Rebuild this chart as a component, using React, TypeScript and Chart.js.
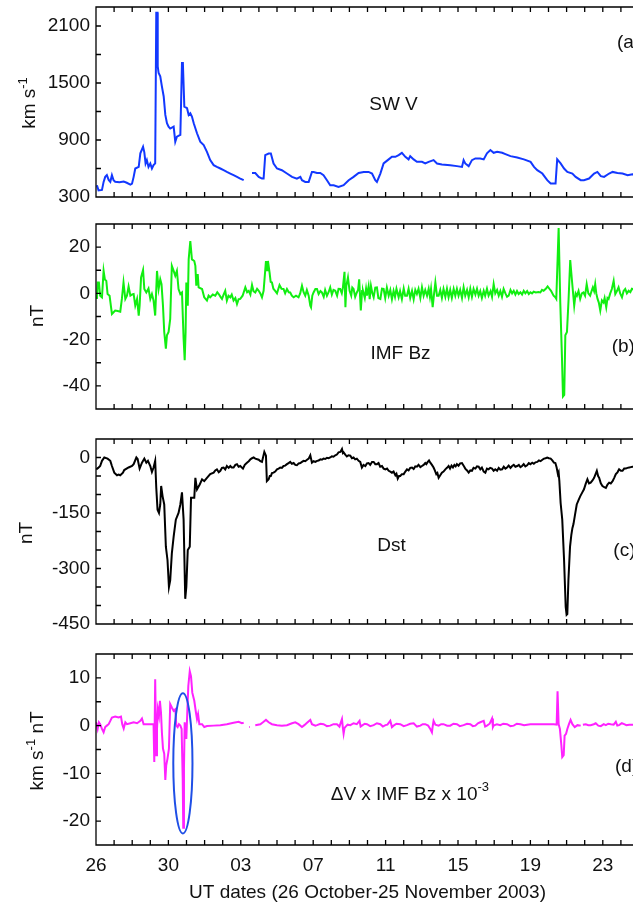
import React, { useEffect, useRef } from 'react';
import { Chart, registerables } from 'chart.js';

Chart.register(...registerables);

const FONT = '"Liberation Sans", Arial, Helvetica, sans-serif';
const TEXT = '#111111';

// ---- x axis (days after 26 Oct 2003 00 UT) ----
const dayTicks = [0, 1, 2, 3, 4, 5, 6, 7, 8, 9, 10, 11, 12, 13, 14, 15, 16, 17, 18, 19, 20, 21, 22, 23, 24, 25, 26, 27, 28, 29, 30];
const dateTickDays = [0, 4, 8, 12, 16, 20, 24, 28];
const dateTickLabels = ['26', '30', '03', '07', '11', '15', '19', '23'];

// ---- (a) solar wind speed, km/s ----
const vDays = [0.05, 0.14, 0.33, 0.42, 0.51, 0.6, 0.7, 0.79, 0.88, 0.97, 1.06, 1.3, 1.53, 1.7, 1.9, 1.99, 2.08, 2.17, 2.36, 2.45, 2.6, 2.67, 2.74, 2.81, 2.9, 3.0, 3.09, 3.18, 3.27, 3.33, 3.4, 3.41, 3.46, 3.55, 3.64, 3.74, 3.83, 3.92, 4.01, 4.1, 4.29, 4.38, 4.47, 4.66, 4.75, 4.8, 4.88, 5.03, 5.12, 5.21, 5.3, 5.4, 5.58, 5.76, 5.95, 6.13, 6.31, 6.5, 6.68, 6.87, 7.05, 7.23, 7.42, 7.6, 7.79, 7.97, 8.16, 8.4, 8.62, 8.8, 8.99, 9.17, 9.26, 9.35, 9.54, 9.66, 9.81, 10.0, 10.27, 10.55, 10.83, 11.1, 11.29, 11.38, 11.56, 11.75, 11.93, 12.02, 12.21, 12.39, 12.57, 12.76, 12.94, 13.13, 13.4, 13.68, 13.96, 14.23, 14.51, 14.79, 15.06, 15.25, 15.43, 15.52, 15.71, 15.89, 16.17, 16.35, 16.54, 16.72, 16.9, 17.09, 17.27, 17.36, 17.55, 17.73, 18.01, 18.19, 18.38, 18.65, 18.84, 19.11, 19.57, 19.94, 20.22, 20.31, 20.4, 20.59, 20.77, 20.96, 21.23, 21.42, 21.6, 21.79, 21.97, 22.16, 22.44, 22.62, 22.9, 23.27, 23.64, 24.01, 24.2, 24.38, 24.66, 24.93, 25.12, 25.39, 25.48, 25.67, 25.86, 26.04, 26.32, 26.5, 26.78, 26.96, 27.24, 27.52, 27.7, 27.89, 28.07, 28.35, 28.54, 28.81, 29.09, 29.37, 29.64, 30];
const vValues = [424, 370, 375, 459, 512, 530, 480, 460, 530, 477, 460, 455, 462, 450, 431, 440, 512, 600, 617, 760, 829, 770, 653, 688, 617, 653, 600, 635, 653, 2240, 2240, 1675, 1605, 1570, 1464, 1358, 1164, 1077, 1040, 1020, 1040, 882, 935, 953, 1711, 1711, 1252, 1235, 1164, 1182, 1147, 1077, 971, 882, 847, 776, 688, 635, 617, 600, 582, 564, 547, 530, 512, 494, 477, null, 553, 553, 512, 494, 494, 741, 758, 758, 653, 600, 582, 547, 512, 494, 512, 477, 459, 459, 564, 564, 553, 553, 530, 477, 424, 424, 406, 424, 477, 512, 553, 564, 564, 547, 477, 459, 547, 653, 696, 723, 723, 741, 765, 723, 696, 730, 696, 670, 670, 653, 670, 688, 653, 643, 635, 625, 617, 688, 653, 625, 688, 706, 706, 696, 759, 794, 765, 776, 765, 751, 730, 716, 696, 670, 617, 582, 547, 477, 442, 442, 696, 653, 600, 564, 547, 512, 477, 477, 494, 547, 564, 519, 512, 547, 564, 553, 547, 530, 540, 535];

// ---- (b) IMF Bz, nT ----
const bzDays = [0.05, 0.1, 0.16, 0.23, 0.33, 0.42, 0.49, 0.57, 0.64, 0.75, 0.88, 1.06, 1.2, 1.34, 1.43, 1.52, 1.62, 1.71, 1.8, 1.9, 2.0, 2.08, 2.17, 2.27, 2.36, 2.41, 2.49, 2.6, 2.67, 2.78, 2.9, 3.0, 3.09, 3.18, 3.27, 3.37, 3.46, 3.55, 3.62, 3.7, 3.77, 3.86, 3.92, 4.01, 4.1, 4.19, 4.29, 4.38, 4.47, 4.56, 4.66, 4.75, 4.84, 4.9, 4.95, 4.99, 5.07, 5.12, 5.21, 5.3, 5.43, 5.49, 5.54, 5.62, 5.67, 5.86, 5.98, 6.13,
  6.22, 6.31, 6.45, 6.59, 6.7, 6.78, 6.88, 6.96, 7.05, 7.14, 7.23, 7.32, 7.42, 7.5, 7.6, 7.7, 7.79, 7.88, 7.97, 8.1, 8.25, 8.35, 8.44, 8.53, 8.62, 8.7, 8.8, 8.9, 8.99, 9.08, 9.17, 9.26, 9.39, 9.45, 9.5, 9.59, 9.65, 9.72, 9.8, 9.9, 10.0, 10.14, 10.25, 10.36, 10.45, 10.55, 10.65, 10.73, 10.82, 10.92, 11.05, 11.19, 11.28, 11.38, 11.47, 11.56, 11.65, 11.75, 11.84, 11.88, 11.95, 12.02, 12.12, 12.21, 12.3, 12.4, 12.48, 12.58, 12.66, 12.76, 12.85, 12.94, 13.03, 13.12, 13.22, 13.32, 13.4, 13.49, 13.58, 13.64, 13.73, 13.78, 13.83, 13.92, 14.01, 14.1, 14.16, 14.23, 14.32, 14.41, 14.48, 14.54, 14.63, 14.7, 14.75, 14.85, 14.92, 14.97, 15.06, 15.12, 15.19, 15.27, 15.34, 15.43, 15.52, 15.6, 15.71, 15.8, 15.89, 15.98, 16.07, 16.17, 16.26, 16.35, 16.44, 16.52, 16.6, 16.72, 16.8, 16.9, 17.0, 17.08, 17.18, 17.27, 17.36, 17.46, 17.55, 17.64, 17.73, 17.82, 17.92, 18.01, 18.1, 18.19, 18.29, 18.38, 18.45, 18.51, 18.6, 18.68, 18.75, 18.84, 18.93, 19.02, 19.11, 19.2, 19.3, 19.39, 19.48, 19.57, 19.66, 19.76, 19.85, 19.94, 20.03, 20.12, 20.22, 20.31, 20.4, 20.5, 20.59, 20.68, 20.77, 20.86, 20.96, 21.05, 21.14, 21.23, 21.32, 21.42, 21.5, 21.6, 21.69, 21.8, 21.88, 21.97, 22.06, 22.16, 22.25, 22.34, 22.43, 22.52, 22.62, 22.71, 22.8, 22.9, 22.99, 23.08, 23.17, 23.26, 23.35, 23.45, 23.54, 23.63, 23.72, 23.82, 23.91, 24.0, 24.09, 24.18, 24.3, 24.44, 24.55, 24.64, 24.73, 24.85, 24.95, 25.05, 25.14, 25.28, 25.36, 25.43,
  25.56, 25.65, 25.74, 25.8, 25.87, 25.93, 26.02, 26.11, 26.2, 26.29, 26.42, 26.5, 26.57, 26.66, 26.75, 26.84, 26.93, 27.02, 27.11, 27.2, 27.3, 27.38, 27.45, 27.52, 27.58, 27.64, 27.71, 27.78, 27.86, 27.95, 28.04, 28.1, 28.19, 28.26, 28.32, 28.41, 28.5, 28.6, 28.69, 28.78, 28.87, 28.96, 29.06, 29.15, 29.24, 29.33, 29.43, 29.52, 29.61, 30];
const bzValues = [-2.4, 4.7, 4.7, -1, -1.7, 9.7, 6, 5.4, -0.3, -1, -8.9, -7.4, -7.6, -7.9, -2.4, 4.7, -2.4, -1, 3, -1, -0.5, -0.3, -5.3, -2.4, -9.6, -5.3, 6.9, 10.1, 1.9, 0.4, 2.1, -2.4, -0.3, -3.1, -9.6, 9.7, 1.9, 6.1, 4, -5.3, -16.7, -23.9, -18.1, -16.7, -11, 11.9, 9.7, 7.6, 9.7, 1.9, -0.3, 0.4, -19.6, -28.9, -16.7, 4.7, -5.3, 14.7, 22.6, 14.7, 14, 11.9, 3.3, 8.3, 2.6, 1.9, -1.7, -3.1,
  -1, -1.7, -0.5, -1, 0.5, -0.3, -1.5, -2.4, -0.5, 1.1, -3.1, -1, -1.7, -0.5, -3.1, -2, -4.6, -2.5, -2.4, -1, 2.6, 0.5, 1.1, -0.5, 3.6, 1, 0.4, 2, 1.1, 0, -1.7, 1.1, 14, 10, 14, 9, 5, 4.7, 2, 1.1, 0, 3.6, 2, 1.9, 0, 1.9, 0.5, 0.4, -1, -1.7, -1, -1.7, 0, 3.3, 0.5, -1, 1.5, -1, -5.3, -6, -1, 0.4, 1.9, 1.9, -0.3, 1, 0.4, -1.5, 1.5, -1, 0.5, 2.6, -0.5, 1.5, 1.1, -1, 2, 1.9, 0, 2.5, 9.3, -6, 3.3, 6.9, 1.1, -1, 2.5, 1.9, -1.5, 0.4, 1.5, 6.1, -7.4, 1, 1.1, -2, 2, -1, 3, -2.5, 3.3, 0, -1.7, 2.5, 2.6, -2, -2.4, 2, 1.9, -2, 2.5, -1, 1.5, -2.5, 1.1, -1.5, 2, -1.7, 1, -2.5, 2.1, -1, -1, 2, -2, 1.1, -2.5, 1.5, -0.3, 2, -2, 2.6, -1, 1.5, -1, 2, -1.5, 1.9, -6, 0, 4.7, -1, -1, 1.5, -2, 1.9, -1.5, 2, -1.7, 1.5, -2, 1.9, -1, 2, -1, 1.5, -2, 2.6, -1, 1.5, -1.7, 2, -1.5, 1.9, -0.5, 2, -1, 1, -2, 1.1, -1, 2, -1, 1, -1.5, 4, 0, 1.5, -1, 1, -1.5, 1.9, 0, -1.5, -1, 1.5, 0, 1.1, -0.5, 1, -0.3, 0.5, -0.5, 1.1, 0, 1, -0.3, 0.5, 0, 0.7, 0.4, 0.6, 0.4, 1.5, 1.1, 2, 3, 2, 1.1, -1, -1.5, -2.4,
  28.3, -3.9, -26.7, -44.6, -43.9, -18.1, -16.7, -2.4, 14.4, 6.1, -5.3, 0, -1, 1, -2.4, 0, 0.4, -1, 4, 0, -1, 1, 2.6, 1, 4, 0, -2.4, -4, -7.4, -3, -3.9, -2, -6, -2, -2.4, 0, 1.9, 5.4, -0.3, 1, 2.6, 0, -1.7, 1, 1.9, 0, 1.1, 0.5, 2, 1];

// ---- (c) Dst, nT ----
const dstDays = [0.01, 0.12, 0.23, 0.33, 0.46, 0.64, 0.79, 0.88, 1.01, 1.16, 1.25, 1.34, 1.49, 1.56, 1.8, 1.99, 2.08, 2.23, 2.3, 2.41, 2.54, 2.67, 2.78, 2.87, 3.0, 3.09, 3.18, 3.27, 3.33, 3.4, 3.48, 3.55, 3.6, 3.68, 3.77, 3.86, 3.95, 4.03, 4.1, 4.19, 4.29, 4.41, 4.56, 4.66, 4.75, 4.84, 4.93, 4.99, 5.07, 5.18, 5.25, 5.34, 5.43, 5.49, 5.58, 5.73, 5.86, 5.98, 6.13, 6.31, 6.5, 6.59, 6.68, 6.78, 6.87, 6.96, 7.05, 7.14, 7.23, 7.33, 7.42, 7.5, 7.6, 7.7, 7.79, 7.88, 7.97, 8.12, 8.22, 8.34, 8.44, 8.53, 8.62, 8.71, 8.8, 8.99, 9.08, 9.17, 9.3, 9.39, 9.44, 9.54, 9.6, 9.66, 9.72, 9.81, 9.9, 10.0, 10.09, 10.18, 10.27, 10.36, 10.45, 10.55, 10.64, 10.73, 10.82, 10.92, 11.01, 11.1, 11.2, 11.29, 11.38, 11.47, 11.56, 11.66, 11.75, 11.84, 11.93, 12.02, 12.12, 12.21, 12.3, 12.4, 12.48, 12.57, 12.66, 12.76, 12.85, 12.94, 13.03, 13.12, 13.22, 13.31, 13.4, 13.5, 13.59, 13.64, 13.68, 13.77, 13.86, 13.95, 14.05, 14.14, 14.23, 14.32, 14.41, 14.51, 14.6, 14.69, 14.78, 14.88, 14.97, 15.06, 15.15, 15.25, 15.34, 15.43, 15.52, 15.61, 15.7, 15.8, 15.89, 15.99, 16.08, 16.17, 16.26, 16.35, 16.44, 16.54, 16.6, 16.67, 16.74, 16.81, 16.9, 17.0, 17.09, 17.18, 17.27, 17.36, 17.46, 17.55, 17.64, 17.73, 17.82, 17.92, 18.01, 18.1, 18.19, 18.25, 18.33, 18.4, 18.47, 18.56, 18.65, 18.72, 18.8, 18.86, 18.93, 19.02, 19.11, 19.2, 19.3, 19.39, 19.48, 19.56, 19.64, 19.72, 19.8, 19.87, 19.94, 20.03, 20.12, 20.22, 20.31, 20.4, 20.5, 20.59, 20.68, 20.77, 20.86, 20.96, 21.05, 21.14, 21.23, 21.32, 21.42, 21.51, 21.6, 21.69, 21.78, 21.88, 21.97, 22.06, 22.16, 22.25, 22.34, 22.44, 22.53, 22.62, 22.71, 22.8, 22.9, 22.99, 23.08, 23.17, 23.27, 23.36, 23.45, 23.54, 23.63, 23.72, 23.82, 23.91, 24.0, 24.1, 24.19, 24.28, 24.38, 24.47, 24.56, 24.66, 24.75, 24.84, 24.93, 25.02, 25.12, 25.21, 25.3, 25.38, 25.45, 25.52, 25.56, 25.6, 25.67, 25.76, 25.86, 25.95, 26.0, 26.04, 26.1, 26.19, 26.26, 26.32, 26.38, 26.45, 26.56, 26.66, 26.75, 26.86, 26.96, 27.05, 27.15, 27.24, 27.33, 27.43, 27.52, 27.6, 27.67, 27.74, 27.8, 27.89, 27.98, 28.08, 28.17, 28.26, 28.35, 28.44, 28.54, 28.63, 28.72, 28.81, 28.9, 29.0, 29.09, 29.18, 29.27, 29.36, 29.46, 29.55, 29.64, 30];
const dstValues = [-32, -28, -23, -9, 0, -3, -9, -23, -41, -48, -46, -48, -41, -34, -27, -23, -18, 0, -4, -30, -14, -3, -14, -9, -23, -39, -27, -9, -82, -141, -150, -127, -77, -105, -127, -241, -277, -350, -332, -259, -214, -168, -150, -127, -94, -168, -382, -350, -250, -241, -109, -109, -109, -55, -86, -73, -59, -64, -55, -45, -41, -35, -32, -40, -36, -28, -27, -32, -23, -28, -23, -27, -27, -20, -18, -25, -23, -30, -20, -14, -10, -5, -2, 0, -3, -6, -10, -12, 15, 5, -64, -59, -50, -50, -42, -41, -38, -32, -30, -27, -28, -23, -22, -18, -15, -12, -17, -15, -20, -21, -16, -15, -12, -9, -10, -6, -3, 6, -14, -10, -12, -9, -8, -5, -6, -3, -4, -1, -2, 0, 3, 2, 6, 8, 14, 15, 23, 12, 14, 8, 3, 6, 5, -2, 0, -5, -3, -9, -12, -27, -20, -23, -16, -15, -20, -12, -12, -18, -18, -15, -25, -23, -30, -32, -30, -36, -38, -41, -38, -48, -44, -57, -50, -50, -45, -45, -38, -32, -35, -28, -27, -31, -24, -25, -20, -26, -23, -20, -15, -18, -12, -8, -14, -20, -27, -35, -45, -42, -55, -48, -41, -38, -32, -28, -23, -30, -22, -27, -20, -24, -18, -22, -16, -15, -22, -30, -35, -41, -35, -36, -28, -30, -24, -25, -32, -27, -38, -41, -30, -32, -28, -30, -36, -32, -36, -28, -33, -32, -25, -30, -27, -22, -28, -23, -20, -25, -23, -20, -26, -23, -18, -24, -21, -15, -18, -14, -17, -13, -12, -8, -10, -6, -3, -2, 0, -2, -3, -8, -14, -15, -27, -45, -40, -64, -123, -168, -277, -404, -425, -423, -332, -241, -210, -191, -180, -159, -127, -115, -105, -95, -86, -72, -59, -70, -68, -62, -55, -45, -36, -50, -55, -70, -77, -80, -82, -73, -68, -70, -64, -55, -45, -40, -32, -36, -36, -30, -30, -28, -27, -26, -25, -25];

// ---- (d) dV x IMF Bz x 1e-3, km/s nT ----
const dvbDays = [0.0, 0.09, 0.16, 0.23, 0.33, 0.42, 0.51, 0.6, 0.7, 0.79, 0.88, 1.06, 1.25, 1.38, 1.45, 1.53, 1.62, 1.71, 1.9, 2.08, 2.27, 2.45, 2.54, 2.63, 2.81, 3.0, 3.18, 3.22, 3.27, 3.33, 3.37, 3.42, 3.48, 3.53, 3.59, 3.64, 3.7, 3.77, 3.83, 3.88, 3.95, 4.03, 4.1, 4.19, 4.29, 4.38, 4.44, 4.51, 4.58, 4.66, 4.73, 4.79, 4.82, 4.86, 4.9, 4.95, 4.99, 5.05, 5.1, 5.18, 5.25, 5.32, 5.43, 5.52, 5.58, 5.64, 5.71, 5.86, 5.98, 6.13, 6.5, 6.87, 7.23, 7.6, 7.88, 8.06, 8.16, 8.3, 8.47, 8.51, 8.6, 8.8, 9.08, 9.26, 9.39, 9.54, 9.72, 10.0, 10.27, 10.55, 10.83, 11.01, 11.19, 11.38, 11.51, 11.66, 11.84, 11.93, 12.12, 12.21, 12.4, 12.57, 12.76, 12.94, 13.12, 13.31, 13.45, 13.59, 13.64, 13.68, 13.73, 13.77, 13.9, 14.05, 14.23, 14.41, 14.56, 14.62, 14.69, 14.85, 14.97, 15.15, 15.34, 15.52, 15.71, 15.85, 15.99, 16.1, 16.26, 16.35, 16.44, 16.6, 16.81, 17.0, 17.18, 17.36, 17.55, 17.73, 17.92, 18.05, 18.19, 18.35, 18.47, 18.56, 18.6, 18.65, 18.75, 18.93, 19.07, 19.2, 19.4, 19.57, 19.75, 19.94, 20.1, 20.31, 20.5, 20.68, 20.82, 20.96, 21.1, 21.23, 21.42, 21.5, 21.6, 21.75, 21.88, 21.93, 21.97, 22.15, 22.34, 22.5, 22.71, 22.9, 23.08, 23.25, 23.45, 23.65, 23.82, 24.0, 24.18, 24.4, 24.55, 24.75, 24.92, 25.1, 25.3, 25.45, 25.5, 25.56, 25.63, 25.71, 25.76, 25.84, 25.89, 25.97, 26.04, 26.13, 26.22, 26.32, 26.45, 26.6, 26.78, 26.84, 26.9, 27.06, 27.2, 27.33, 27.5, 27.61, 27.75, 27.89, 28.05, 28.17, 28.3, 28.44, 28.6, 28.72, 28.8, 28.9, 29.05, 29.18, 29.3, 29.46, 29.64, 30];
const dvbValues = [0.7, -0.7, 0.7, 0.3, -0.7, -1.4, -0.3, 0, 0.3, 1, 1.7, 1.9, 1.7, 1.9, 0.3, -0.6, 0.7, 0.3, 0.5, 0.7, 0.5, 1, 1.5, 0.3, 0.3, 0.3, 0.3, -7.6, 9.7, -6.2, -0.7, 3.4, 2.1, 5.2, 2.8, -1.4, -4.8, -5.9, -11.4, -8.3, -6.9, -4.8, 4.5, 3.8, 3.1, 3.4, 0, -0.3, 0.3, 0, -0.7, -11, -21.4, -9, 0.7, -0.7, -2.8, 3.4, 8.3, 11.4, 10.3, 6.9, 5.2, 2.8, 1.4, 2.4, 0.3, 0.3, -0.3, -0.1, 0, 0.1, 0.3, 0.6, 0.8, 0.5, 0.6, null, -0.3, -0.3, null, 0.1, 0.3, 0.8, 1.2, 0.7, 0.3, 0.1, 0, 0.1, 0.5, 0.7, 0.3, -0.3, 0.1, 0.6, 1.2, 0.3, 0, 0.1, 0.4, 0.3, -0.1, 0, 0.3, 0.3, -0.2, 1.4, -0.5, -1.7, -0.5, -0.3, 0.2, 0.1, 0.5, 0.3, 1, -0.2, 0, 0.4, 0.3, -0.1, 0.1, 0.5, 0.3, -0.2, 0.1, 0.2, 1, -0.3, 0, 0.4, 0.3, -0.1, 0.1, 0.4, 0.5, -0.2, 0, 0.3, 0.3, 0, -0.7, -1.4, -0.2, 1, 0.2, 0, 0.3, 0.3, 0, 0, 0.4, 0.3, -0.1, 0.1, 0.4, 0.3, -0.1, 0, 0.5, 0.7, 1, -0.2, 0, 0.4, 1.5, -0.3, 0, 0.3, 0.1, 0.4, 0.3, -0.1, 0, 0.4, 0.3, 0.1, 0.2, 0.3, 0.3, 0.3, 0.3, 0.3, 0.3, 0.3, 0.3, 0.2, 7.2, 0.3, -0.7, -4.1, -6.6, -6.2, -2.1, -1.7, -0.7, 0.3, 1.2, 0.3, -0.3, 0.1, 0, null, 0.2, 0.3, 0.1, 0.1, 0.3, 0.5, 0, -0.1, 0.3, 0.1, 0.4, 0.3, 0.2, 0.8, 0, 0.1, 0.5, 0.3, 0.1, 0.2, 0.2, 0.2];

// ---- y ticks per panel ----
const vTicks = [300, 600, 900, 1200, 1500, 1800, 2100];
const vTickLabels = [300, 900, 1500, 2100];
const bzTicks = [-50, -40, -30, -20, -10, 0, 10, 20, 30];
const bzTickLabels = [-40, -20, 0, 20];
const dstTicks = [-450, -400, -350, -300, -250, -200, -150, -100, -50, 0, 50];
const dstTickLabels = [-450, -300, -150, 0];
const dvbTicks = [-25, -20, -15, -10, -5, 0, 5, 10, 15];
const dvbTickLabels = [-20, -10, 0, 10];

type Part = { t: string; sup?: boolean };

const CANVAS_W = 680;
const AREA_RIGHT = 639;

function drawParts(ctx: CanvasRenderingContext2D, parts: Part[], size: number) {
  const main = `${size}px ${FONT}`;
  const sup = `${Math.round(size * 0.7)}px ${FONT}`;
  let cx = 0;
  parts.forEach((p) => {
    ctx.font = p.sup ? sup : main;
    ctx.fillText(p.t, cx, p.sup ? -size * 0.42 : 0);
    cx += ctx.measureText(p.t).width;
  });
}
function partsWidth(ctx: CanvasRenderingContext2D, parts: Part[], size: number) {
  let w = 0;
  parts.forEach((p) => {
    ctx.font = p.sup ? `${Math.round(size * 0.7)}px ${FONT}` : `${size}px ${FONT}`;
    w += ctx.measureText(p.t).width;
  });
  return w;
}

interface PanelCfg {
  key: string;
  top: number; // page y of canvas
  height: number;
  padBottom: number;
  xHeight: number;
  showX: boolean;
  min: number;
  max: number;
  ticks: number[];
  labels: number[];
  days: number[];
  values: (number | null)[];
  color: string;
  yTitle: Part[];
  yTitleX: number;
  yTitleY: number;
  name: Part[];
  nameX: number;
  nameY: number;
  nameCenter: boolean;
  letter: string;
  letterX: number;
  letterY: number;
  ellipse?: boolean;
}

const panels: PanelCfg[] = [
  { key: 'a', top: -13, height: 230, padBottom: 20, xHeight: 0, showX: false, min: 300, max: 2300, ticks: vTicks, labels: vTickLabels, days: vDays, values: vValues, color: '#1238ff',
    yTitle: [{ t: 'km s' }, { t: '-1', sup: true }], yTitleX: 35, yTitleY: 103, name: [{ t: 'SW V' }], nameX: 393.5, nameY: 104.5, nameCenter: true, letter: '(a)', letterX: 617, letterY: 43 },
  { key: 'b', top: 204, height: 225, padBottom: 20, xHeight: 0, showX: false, min: -50, max: 30, ticks: bzTicks, labels: bzTickLabels, days: bzDays, values: bzValues, color: '#11ee11',
    yTitle: [{ t: 'nT' }], yTitleX: 42.7, yTitleY: 316, name: [{ t: 'IMF Bz' }], nameX: 400.5, nameY: 353.5, nameCenter: true, letter: '(b)', letterX: 611.7, letterY: 347 },
  { key: 'c', top: 419, height: 225, padBottom: 20, xHeight: 0, showX: false, min: -450, max: 50, ticks: dstTicks, labels: dstTickLabels, days: dstDays, values: dstValues, color: '#000000',
    yTitle: [{ t: 'nT' }], yTitleX: 31.7, yTitleY: 533, name: [{ t: 'Dst' }], nameX: 391.5, nameY: 545.5, nameCenter: true, letter: '(c)', letterX: 613.3, letterY: 551 },
  { key: 'd', top: 634, height: 273, padBottom: 0, xHeight: 62, showX: true, min: -25, max: 15, ticks: dvbTicks, labels: dvbTickLabels, days: dvbDays, values: dvbValues, color: '#ff22ff',
    yTitle: [{ t: 'km s' }, { t: '-1', sup: true }, { t: ' nT' }], yTitleX: 43, yTitleY: 751, name: [{ t: '\u0394V x IMF Bz x 10' }, { t: '-3', sup: true }], nameX: 330.7, nameY: 795, nameCenter: false, letter: '(d)', letterX: 615, letterY: 766.5, ellipse: true },
];

function makeDecor(cfg: PanelCfg) {
  return {
    id: 'decor' + cfg.key,
    afterDatasetsDraw(chart: any) {
      const { ctx, chartArea, scales } = chart;
      const { left, right, top, bottom } = chartArea;
      const x = scales.x, y = scales.y;
      ctx.save();
      ctx.strokeStyle = '#000';
      ctx.lineWidth = 1.3;
      ctx.beginPath();
      ctx.rect(left, top, right - left, bottom - top);
      x.ticks.forEach((t: any) => {
        const px = x.getPixelForValue(t.value);
        ctx.moveTo(px, bottom); ctx.lineTo(px, bottom - 5);
        ctx.moveTo(px, top); ctx.lineTo(px, top + 5);
      });
      y.ticks.forEach((t: any) => {
        const py = y.getPixelForValue(t.value);
        ctx.moveTo(left, py); ctx.lineTo(left + 5, py);
        ctx.moveTo(right, py); ctx.lineTo(right - 5, py);
      });
      ctx.stroke();

      if (cfg.ellipse) {
        const cx = x.getPixelForValue(4.8);
        const yTop = y.getPixelForValue(6.8);
        const yBot = y.getPixelForValue(-22.6);
        const rx = x.getPixelForValue(4.8 + 0.53) - cx;
        ctx.strokeStyle = '#1f4fe6';
        ctx.lineWidth = 2;
        ctx.beginPath();
        ctx.ellipse(cx, (yTop + yBot) / 2, rx, (yBot - yTop) / 2, 0, 0, Math.PI * 2);
        ctx.stroke();
      }
      ctx.restore();
    },
    afterDraw(chart: any) {
      const { ctx } = chart;
      const off = cfg.top;
      const size = 19;
      ctx.save();
      ctx.fillStyle = TEXT;
      ctx.textAlign = 'left';
      // y title (rotated)
      ctx.textBaseline = 'alphabetic';
      const tw = partsWidth(ctx, cfg.yTitle, size);
      ctx.save();
      ctx.translate(cfg.yTitleX, cfg.yTitleY - off + tw / 2);
      ctx.rotate(-Math.PI / 2);
      drawParts(ctx, cfg.yTitle, size);
      ctx.restore();
      // panel name
      ctx.textBaseline = 'middle';
      const nw = partsWidth(ctx, cfg.name, size);
      ctx.save();
      ctx.translate(cfg.nameCenter ? cfg.nameX - nw / 2 : cfg.nameX, cfg.nameY - off);
      drawParts(ctx, cfg.name, size);
      ctx.restore();
      // letter
      ctx.font = `${size}px ${FONT}`;
      ctx.fillText(cfg.letter, cfg.letterX, cfg.letterY - off);
      // x title
      if (cfg.showX) {
        ctx.textAlign = 'center';
        const ca = chart.chartArea;
        ctx.fillText('UT dates (26 October-25 November 2003)', (ca.left + ca.right) / 2, 893 - off);
      }
      ctx.restore();
    },
  };
}

function makeChart(canvas: HTMLCanvasElement, cfg: PanelCfg) {
  const pts = cfg.days.map((d, i) => ({ x: d, y: cfg.values[i] }));
  const font = { family: FONT, size: 19 };
  return new Chart(canvas, {
    type: 'line',
    data: {
      datasets: [{
        data: pts as any,
        borderColor: cfg.color,
        borderWidth: 2,
        pointRadius: 0,
        tension: 0,
        spanGaps: false,
        fill: false,
      }],
    },
    options: {
      responsive: false,
      animation: false,
      devicePixelRatio: 1,
      layout: { padding: { left: 0, right: CANVAS_W - AREA_RIGHT, top: 20, bottom: cfg.padBottom } },
      plugins: { legend: { display: false }, tooltip: { enabled: false }, title: { display: false } },
      scales: {
        x: {
          type: 'linear',
          min: 0,
          max: 30,
          afterBuildTicks: (s: any) => { s.ticks = dayTicks.map((v) => ({ value: v })); },
          afterFit: (s: any) => { s.height = cfg.xHeight; },
          ticks: {
            display: cfg.showX,
            autoSkip: false,
            maxRotation: 0,
            padding: 9,
            color: TEXT,
            font,
            callback: (v: any) => {
              const i = dateTickDays.indexOf(Number(v));
              return i >= 0 ? dateTickLabels[i] : '';
            },
          },
          grid: { display: false, drawTicks: false },
          border: { display: false },
        },
        y: {
          type: 'linear',
          min: cfg.min,
          max: cfg.max,
          afterBuildTicks: (s: any) => { s.ticks = cfg.ticks.map((v) => ({ value: v })); },
          afterFit: (s: any) => { s.width = 96; },
          ticks: {
            autoSkip: false,
            padding: 6,
            color: TEXT,
            font,
            callback: (v: any) => (cfg.labels.includes(Number(v)) ? String(v) : ''),
          },
          grid: { display: false, drawTicks: false },
          border: { display: false },
        },
      },
    },
    plugins: [makeDecor(cfg)],
  });
}

export default function App() {
  const refs = useRef<(HTMLCanvasElement | null)[]>([]);
  useEffect(() => {
    const charts = panels.map((p, i) => makeChart(refs.current[i] as HTMLCanvasElement, p));
    return () => charts.forEach((c) => c.destroy());
  }, []);
  return (
    <div style={{ position: 'fixed', left: 0, top: 0, width: 633, height: 907, overflow: 'hidden', background: '#ffffff' }}>
      {panels.map((p, i) => (
        <canvas
          key={p.key}
          ref={(el) => { refs.current[i] = el; }}
          width={CANVAS_W}
          height={p.height}
          style={{ position: 'absolute', left: 0, top: p.top, width: CANVAS_W, height: p.height }}
        />
      ))}
    </div>
  );
}
